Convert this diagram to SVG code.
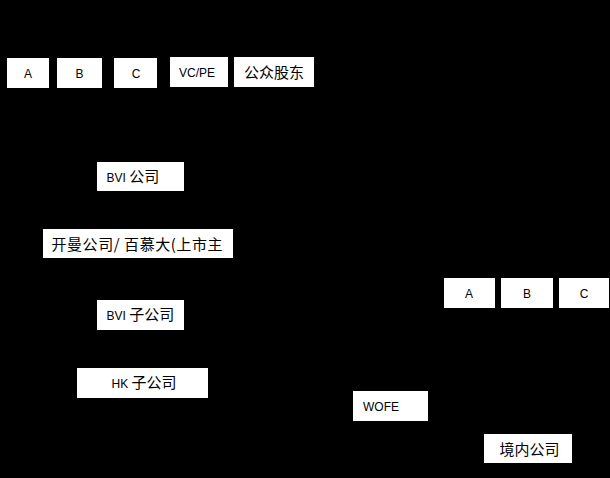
<svg xmlns="http://www.w3.org/2000/svg" width="610" height="478" viewBox="0 0 610 478">
<style>
.bg{fill:#000}
.box{fill:#fff;stroke:none}
.t{font-family:"Liberation Sans","Noto Sans CJK SC",sans-serif;font-size:12px;fill:#000}
.c{font-family:"Noto Sans CJK SC","Liberation Sans",sans-serif;font-size:15px;fill:#000}
.m{text-anchor:middle}
</style>
<rect class="bg" x="0" y="0" width="610" height="478"/>
<g id="node-A1"><rect class="box" x="7" y="58" width="42" height="30"/><text class="t m" x="28" y="78">A</text></g>
<g id="node-B1"><rect class="box" x="57" y="58" width="45" height="30"/><text class="t m" x="79.5" y="78">B</text></g>
<g id="node-C1"><rect class="box" x="114" y="58" width="43" height="30"/><text class="t m" x="136" y="78">C</text></g>
<g id="node-VCPE"><rect class="box" x="170" y="57" width="58" height="30"/><text class="t m" x="197" y="77">VC/PE</text></g>
<g id="node-public"><rect class="box" x="234" y="57" width="80" height="30"/><text class="c m" x="274" y="78">公众股东</text></g>
<g id="node-BVI"><rect class="box" x="97" y="162" width="87" height="29"/><text class="t" x="106.5" y="182">BVI <tspan class="c">公司</tspan></text></g>
<g id="node-cayman"><rect class="box" x="43" y="229" width="190" height="29"/><text class="c" x="51.5" y="250" textLength="171">开曼公司/ 百慕大(上市主</text></g>
<g id="node-BVIsub"><rect class="box" x="97" y="300" width="87" height="30"/><text class="t" x="106.5" y="320">BVI <tspan class="c">子公司</tspan></text></g>
<g id="node-HK"><rect class="box" x="77" y="368" width="131" height="30"/><text class="t" x="111.5" y="388">HK <tspan class="c">子公司</tspan></text></g>
<g id="node-A2"><rect class="box" x="444" y="278" width="51" height="30"/><text class="t m" x="469" y="298">A</text></g>
<g id="node-B2"><rect class="box" x="501" y="278" width="52" height="30"/><text class="t m" x="527" y="298">B</text></g>
<g id="node-C2"><rect class="box" x="559" y="278" width="50" height="30"/><text class="t m" x="584" y="298">C</text></g>
<g id="node-WOFE"><rect class="box" x="353" y="391" width="75" height="30"/><text class="t" x="363" y="411">WOFE</text></g>
<g id="node-domestic"><rect class="box" x="484" y="434" width="88" height="29"/><text class="c" x="499.5" y="455">境内公司</text></g>
</svg>
